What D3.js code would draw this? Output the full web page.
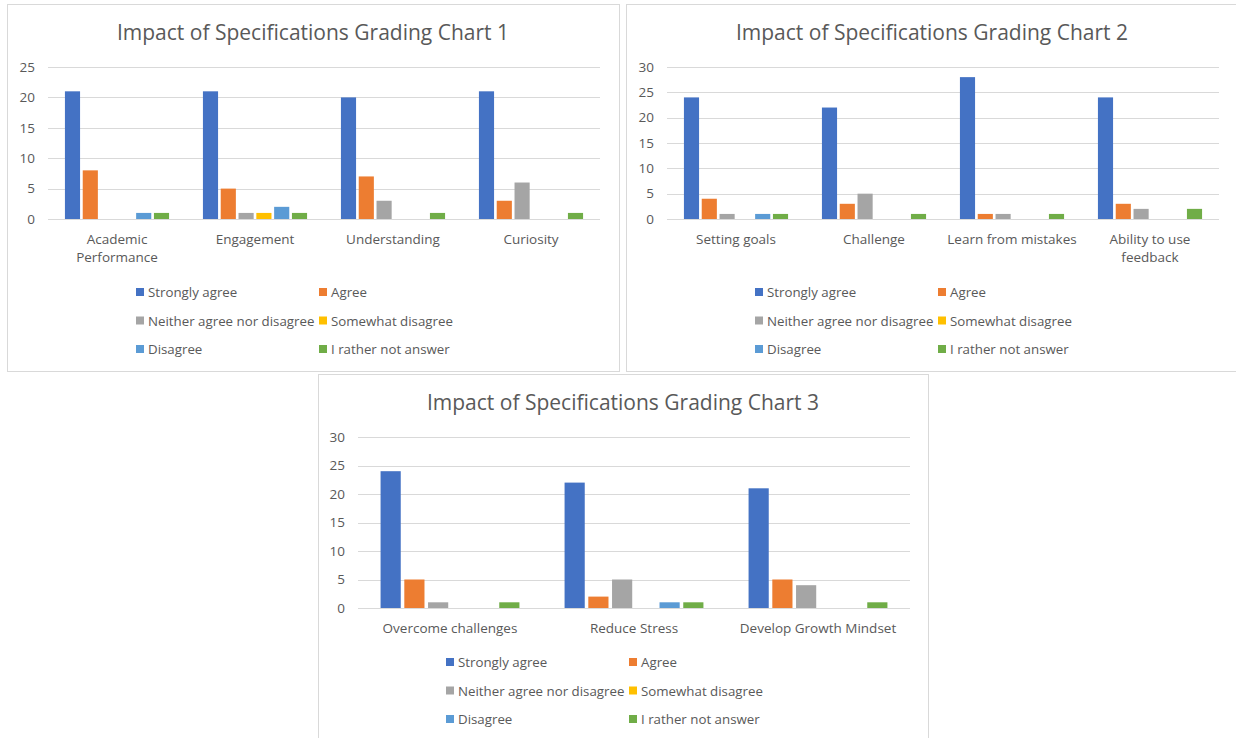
<!DOCTYPE html>
<html>
<head>
<meta charset="utf-8">
<script src="https://cdn.jsdelivr.net/npm/d3@7"></script>
<style>
  body { margin: 0; background: #fff; }
  svg { display: block; font-family: "Open Sans", sans-serif; }
</style>
</head>
<body>
<div id="chart"></div>
<script>
var series = ["Strongly agree", "Agree", "Neither agree nor disagree", "Somewhat disagree", "Disagree", "I rather not answer"];
var colors = ["#4472C4", "#ED7D31", "#A5A5A5", "#FFC000", "#5B9BD5", "#70AD47"];

var chart1_categories = [["Academic", "Performance"], ["Engagement"], ["Understanding"], ["Curiosity"]];
var chart1_values = [
    [21, 8, 0, 0, 1, 1],
    [21, 5, 1, 1, 2, 1],
    [20, 7, 3, 0, 0, 1],
    [21, 3, 6, 0, 0, 1]
];
var chart1_ticks = [0, 5, 10, 15, 20, 25];

var chart2_categories = [["Setting goals"], ["Challenge"], ["Learn from mistakes"], ["Ability to use", "feedback"]];
var chart2_values = [
    [24, 4, 1, 0, 1, 1],
    [22, 3, 5, 0, 0, 1],
    [28, 1, 1, 0, 0, 1],
    [24, 3, 2, 0, 0, 2]
];
var chart2_ticks = [0, 5, 10, 15, 20, 25, 30];

var chart3_categories = [["Overcome challenges"], ["Reduce Stress"], ["Develop Growth Mindset"]];
var chart3_values = [
    [24, 5, 1, 0, 0, 1],
    [22, 2, 5, 0, 1, 1],
    [21, 5, 4, 0, 0, 1]
];
var chart3_ticks = [0, 5, 10, 15, 20, 25, 30];

const W = 1236, H = 738;
const TEXT = "#595959";
const GRID = "#D9D9D9";

var svg = d3.select("#chart").append("svg")
    .attr("width", W)
    .attr("height", H);

function draw_chart(opt) {
    var g = svg.append("g");

    // panel frame
    g.append("rect")
        .attr("x", opt.box[0] + 0.5)
        .attr("y", opt.box[1] + 0.5)
        .attr("width", opt.box[2])
        .attr("height", opt.box[3])
        .attr("fill", "#fff")
        .attr("stroke", GRID);

    g.append("text")
        .attr("x", opt.titleX)
        .attr("y", opt.titleY)
        .attr("text-anchor", "middle")
        .attr("fill", TEXT)
        .attr("font-size", 21)
        .text(opt.title);

    var labels = opt.categories.map(function (c) { return c.join(" "); });
    var x0 = d3.scaleBand()
        .domain(labels)
        .range([opt.left, opt.right]);
    var bw = x0.bandwidth();
    var x1 = d3.scaleBand()
        .domain(series)
        .range([bw * 0.113, bw * 0.887])
        .paddingInner(0.15)
        .paddingOuter(0.075);
    var y = d3.scaleLinear()
        .domain([0, opt.max])
        .range([opt.bottom, opt.top]);

    // gridlines
    g.append("g")
        .selectAll("line")
        .data(opt.ticks)
        .join("line")
        .attr("x1", opt.left)
        .attr("x2", opt.right)
        .attr("y1", function (d) { return Math.round(y(d)) + 0.5; })
        .attr("y2", function (d) { return Math.round(y(d)) + 0.5; })
        .attr("stroke", GRID)
        .attr("stroke-width", 1);

    // y axis labels
    var yAxis = g.append("g")
        .attr("transform", "translate(" + (opt.left - 13) + ",0)")
        .call(d3.axisLeft(y).tickValues(opt.ticks).tickSize(0).tickPadding(0));
    yAxis.select(".domain").remove();
    yAxis.selectAll("text")
        .attr("fill", TEXT)
        .attr("font-size", 13.5)
        .attr("font-family", "Open Sans, sans-serif");

    // bars
    var groups = g.append("g")
        .selectAll("g")
        .data(opt.values)
        .join("g")
        .attr("transform", function (d, i) { return "translate(" + x0(labels[i]) + ",0)"; });

    groups.selectAll("rect")
        .data(function (d) { return d.map(function (v, j) { return { s: series[j], v: v, c: colors[j] }; }); })
        .join("rect")
        .filter(function (d) { return d.v > 0; })
        .attr("x", function (d) { return x1(d.s); })
        .attr("width", x1.bandwidth())
        .attr("y", function (d) { return y(d.v); })
        .attr("height", function (d) { return y(0) - y(d.v); })
        .attr("fill", function (d) { return d.c; });

    // zero line
    g.append("line")
        .attr("x1", opt.left)
        .attr("x2", opt.right)
        .attr("y1", Math.round(y(0)) + 0.5)
        .attr("y2", Math.round(y(0)) + 0.5)
        .attr("stroke", GRID);

    // category labels
    var cat = g.append("g")
        .selectAll("text")
        .data(opt.categories)
        .join("text")
        .attr("x", function (d, i) { return x0(labels[i]) + bw / 2; })
        .attr("y", opt.bottom + 25)
        .attr("text-anchor", "middle")
        .attr("fill", TEXT)
        .attr("font-size", 13.5);
    cat.selectAll("tspan")
        .data(function (d) { return d; })
        .join("tspan")
        .attr("x", function () { return d3.select(this.parentNode).attr("x"); })
        .attr("dy", function (d, i) { return i === 0 ? 0 : 18; })
        .text(function (d) { return d; });

    // legend, two columns
    var leg = g.append("g")
        .selectAll("g")
        .data(series)
        .join("g")
        .attr("transform", function (d, i) {
            return "translate(" + (opt.legendX + (i % 2) * 183) + "," + (opt.legendY + Math.floor(i / 2) * 28.5) + ")";
        });
    leg.append("rect")
        .attr("x", 0)
        .attr("y", -4)
        .attr("width", 8)
        .attr("height", 8)
        .attr("fill", function (d, i) { return colors[i]; });
    leg.append("text")
        .attr("x", 12)
        .attr("y", 5)
        .attr("fill", TEXT)
        .attr("font-size", 13.3)
        .text(function (d) { return d; });
}

draw_chart({
    box: [7, 4, 612, 367],
    title: "Impact of Specifications Grading Chart 1",
    titleX: 313, titleY: 40,
    categories: chart1_categories, values: chart1_values, ticks: chart1_ticks, max: 25,
    left: 48, right: 600, top: 67, bottom: 219,
    legendX: 136, legendY: 292
});

draw_chart({
    box: [626, 4, 612, 367],
    title: "Impact of Specifications Grading Chart 2",
    titleX: 932, titleY: 40,
    categories: chart2_categories, values: chart2_values, ticks: chart2_ticks, max: 30,
    left: 667, right: 1219, top: 67, bottom: 219,
    legendX: 755, legendY: 292
});

draw_chart({
    box: [318, 374, 610, 366],
    title: "Impact of Specifications Grading Chart 3",
    titleX: 623, titleY: 410,
    categories: chart3_categories, values: chart3_values, ticks: chart3_ticks, max: 30,
    left: 358, right: 910, top: 437, bottom: 608,
    legendX: 446, legendY: 662
});
</script>
</body>
</html>
